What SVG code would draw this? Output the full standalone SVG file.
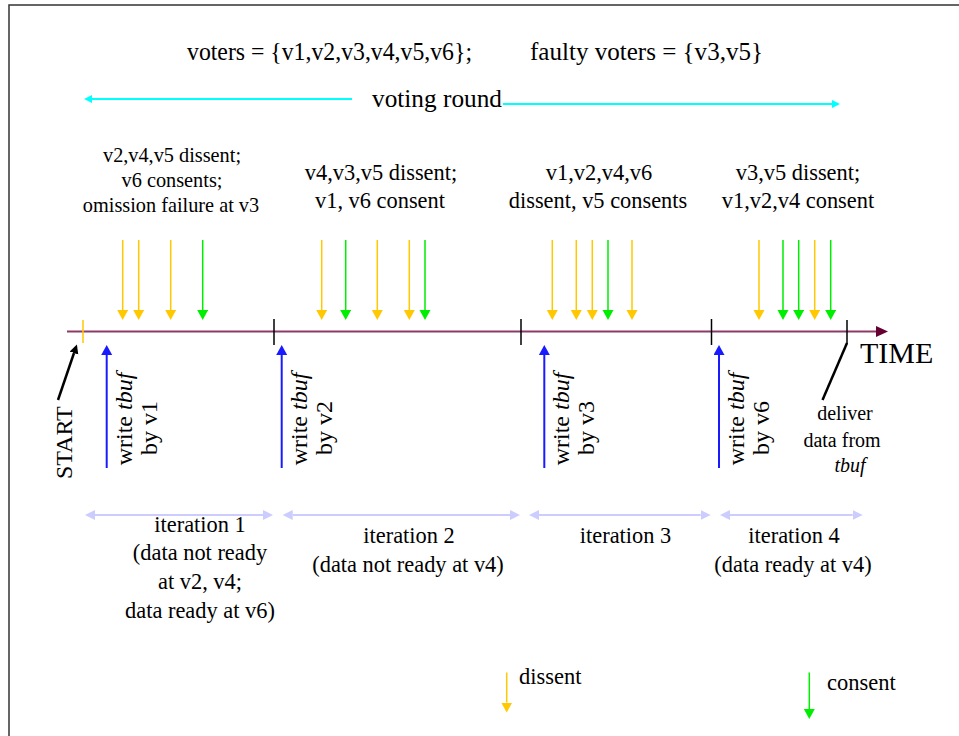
<svg xmlns="http://www.w3.org/2000/svg" width="959" height="736" viewBox="0 0 959 736" font-family="'Liberation Serif', 'Times New Roman', serif">
<defs>
<style>
text{font-family:'Liberation Serif','Times New Roman',serif;fill:#000}
.t20{font-size:20.3px;text-anchor:middle}
.t22{font-size:22.4px;text-anchor:middle}
.d20{font-size:20px;text-anchor:middle}
.t24{font-size:24px;text-anchor:middle}
.it{font-style:italic}
.dis{stroke:#ffc800;stroke-width:1.5;fill:none}
.con{stroke:#00ee00;stroke-width:1.5;fill:none}
.blue{stroke:#1a1aff;stroke-width:2;fill:none}
.tick{stroke:#000;stroke-width:1.5}
.iter{stroke:#ccccff;stroke-width:2;fill:none}
.cyan{stroke:#00ffff;stroke-width:2;fill:none}
</style>
<marker id="hd" markerUnits="userSpaceOnUse" markerWidth="12" markerHeight="12" refX="0" refY="5.5" orient="auto"><path d="M0,0 L10,5.5 L0,11 z" fill="#ffc800"/></marker>
<marker id="hc" markerUnits="userSpaceOnUse" markerWidth="12" markerHeight="12" refX="0" refY="5.5" orient="auto"><path d="M0,0 L10,5.5 L0,11 z" fill="#00ee00"/></marker>
<marker id="hb" markerUnits="userSpaceOnUse" markerWidth="12" markerHeight="12" refX="0" refY="5.5" orient="auto"><path d="M0,0 L10,5.5 L0,11 z" fill="#1a1aff"/></marker>
<marker id="hi" markerUnits="userSpaceOnUse" markerWidth="12" markerHeight="12" refX="0" refY="5" orient="auto-start-reverse"><path d="M0,0 L10,5 L0,10 z" fill="#ccccff"/></marker>
<marker id="hy" markerUnits="userSpaceOnUse" markerWidth="12" markerHeight="12" refX="0" refY="4" orient="auto"><path d="M0,0 L8,4 L0,8 z" fill="#00ffff"/></marker>
<marker id="ht" markerUnits="userSpaceOnUse" markerWidth="14" markerHeight="14" refX="0" refY="5.5" orient="auto"><path d="M0,0 L12,5.5 L0,11 z" fill="#660033"/></marker>
<marker id="hk" markerUnits="userSpaceOnUse" markerWidth="12" markerHeight="12" refX="0" refY="4.5" orient="auto"><path d="M0,0 L9,4.5 L0,9 z" fill="#000"/></marker>
</defs>
<rect width="959" height="736" fill="#fff"/>
<path d="M9,736 V5 H959" fill="none" stroke="#333" stroke-width="1.5"/>

<g id="title">
<text x="187" y="60" font-size="26" textLength="285" lengthAdjust="spacingAndGlyphs">voters = {v1,v2,v3,v4,v5,v6};</text>
<text x="530" y="60" font-size="26" textLength="233" lengthAdjust="spacingAndGlyphs">faulty voters = {v3,v5}</text>
</g>

<g id="voting-round">
<line class="cyan" x1="352" y1="99" x2="92" y2="99" marker-end="url(#hy)"/>
<text x="372" y="107" font-size="26" textLength="130" lengthAdjust="spacingAndGlyphs">voting round</text>
<line class="cyan" x1="503" y1="104" x2="832" y2="104" marker-end="url(#hy)"/>
</g>

<g id="timeline">
<line x1="67" y1="331.5" x2="876" y2="331.5" stroke="#8e3a66" stroke-width="2" marker-end="url(#ht)"/>
<line x1="83" y1="320" x2="83" y2="343" stroke="#ffc800" stroke-width="1.5"/>
<line class="tick" x1="274" y1="319" x2="274" y2="345"/>
<line class="tick" x1="521" y1="319" x2="521" y2="345"/>
<line class="tick" x1="711.5" y1="319" x2="711.5" y2="345"/>
<line class="tick" x1="847" y1="320" x2="847" y2="344"/>
<text x="860" y="363" font-size="30">TIME</text>
</g>

<g id="interval1-label">
<text class="t20" x="172" y="161.5">v2,v4,v5 dissent;</text>
<text class="t20" x="172" y="186.5">v6 consents;</text>
<text class="t20" x="171" y="211.5">omission failure at v3</text>
</g>
<g id="interval2-label">
<text class="t22" x="381" y="180">v4,v3,v5 dissent;</text>
<text class="t22" x="380" y="208">v1, v6 consent</text>
</g>
<g id="interval3-label">
<text class="t22" x="599" y="180">v1,v2,v4,v6</text>
<text class="t22" x="598" y="208">dissent, v5 consents</text>
</g>
<g id="interval4-label">
<text class="t22" x="798" y="180">v3,v5 dissent;</text>
<text class="t22" x="798" y="208">v1,v2,v4 consent</text>
</g>

<g id="votes">
<line class="dis" x1="122.7" y1="240" x2="122.7" y2="310" marker-end="url(#hd)"/>
<line class="dis" x1="138.7" y1="240" x2="138.7" y2="310" marker-end="url(#hd)"/>
<line class="dis" x1="170.7" y1="240" x2="170.7" y2="310" marker-end="url(#hd)"/>
<line class="con" x1="202.7" y1="240" x2="202.7" y2="310" marker-end="url(#hc)"/>
<line class="dis" x1="321.7" y1="240" x2="321.7" y2="310" marker-end="url(#hd)"/>
<line class="con" x1="345.7" y1="240" x2="345.7" y2="310" marker-end="url(#hc)"/>
<line class="dis" x1="377.3" y1="240" x2="377.3" y2="310" marker-end="url(#hd)"/>
<line class="dis" x1="409.3" y1="240" x2="409.3" y2="310" marker-end="url(#hd)"/>
<line class="con" x1="425" y1="240" x2="425" y2="310" marker-end="url(#hc)"/>
<line class="dis" x1="552.3" y1="240" x2="552.3" y2="310" marker-end="url(#hd)"/>
<line class="dis" x1="576.3" y1="240" x2="576.3" y2="310" marker-end="url(#hd)"/>
<line class="dis" x1="592.3" y1="240" x2="592.3" y2="310" marker-end="url(#hd)"/>
<line class="con" x1="608" y1="240" x2="608" y2="310" marker-end="url(#hc)"/>
<line class="dis" x1="632" y1="240" x2="632" y2="310" marker-end="url(#hd)"/>
<line class="dis" x1="759" y1="240" x2="759" y2="310" marker-end="url(#hd)"/>
<line class="con" x1="783" y1="240" x2="783" y2="310" marker-end="url(#hc)"/>
<line class="con" x1="798.7" y1="240" x2="798.7" y2="310" marker-end="url(#hc)"/>
<line class="dis" x1="814.7" y1="240" x2="814.7" y2="310" marker-end="url(#hd)"/>
<line class="con" x1="830.7" y1="240" x2="830.7" y2="310" marker-end="url(#hc)"/>
</g>

<g id="start">
<line x1="58" y1="400" x2="74" y2="353" stroke="#000" stroke-width="2.5" marker-end="url(#hk)"/>
<text x="72" y="479" font-size="24" transform="rotate(-90 72 479)">START</text>
</g>

<g id="write-v1">
<line class="blue" x1="106.7" y1="468" x2="106.7" y2="355" marker-end="url(#hb)"/>
<text class="t24" transform="translate(131.5 419) rotate(-90)">write <tspan class="it">tbuf</tspan></text>
<text class="t24" transform="translate(156.5 428) rotate(-90)">by  v1</text>
</g>
<g id="write-v2">
<line class="blue" x1="281.7" y1="468" x2="281.7" y2="355" marker-end="url(#hb)"/>
<text class="t24" transform="translate(306.5 419) rotate(-90)">write <tspan class="it">tbuf</tspan></text>
<text class="t24" transform="translate(331.5 428) rotate(-90)">by  v2</text>
</g>
<g id="write-v3">
<line class="blue" x1="544.3" y1="468" x2="544.3" y2="355" marker-end="url(#hb)"/>
<text class="t24" transform="translate(569 419) rotate(-90)">write <tspan class="it">tbuf</tspan></text>
<text class="t24" transform="translate(594 428) rotate(-90)">by  v3</text>
</g>
<g id="write-v6">
<line class="blue" x1="719" y1="468" x2="719" y2="355" marker-end="url(#hb)"/>
<text class="t24" transform="translate(744 419) rotate(-90)">write <tspan class="it">tbuf</tspan></text>
<text class="t24" transform="translate(769 428) rotate(-90)">by  v6</text>
</g>

<g id="deliver">
<line x1="847" y1="343" x2="822.5" y2="400" stroke="#000" stroke-width="2.5"/>
<text class="d20" x="845" y="420">deliver</text>
<text class="d20" x="842" y="446.5">data from</text>
<text class="d20 it" x="850" y="471.5">tbuf</text>
</g>

<g id="iterations">
<line class="iter" x1="95" y1="515" x2="263" y2="515" marker-start="url(#hi)" marker-end="url(#hi)"/>
<line class="iter" x1="292.7" y1="515" x2="510" y2="515" marker-start="url(#hi)" marker-end="url(#hi)"/>
<line class="iter" x1="539" y1="515" x2="700.7" y2="515" marker-start="url(#hi)" marker-end="url(#hi)"/>
<line class="iter" x1="730" y1="515" x2="852.7" y2="515" marker-start="url(#hi)" marker-end="url(#hi)"/>
</g>

<g id="iteration1">
<text class="t22" x="200" y="531.5">iteration 1</text>
<text class="t22" x="200" y="560">(data not ready</text>
<text class="t22" x="200" y="589">at v2, v4;</text>
<text class="t22" x="200" y="618">data ready at v6)</text>
</g>
<g id="iteration2">
<text class="t22" x="409" y="543">iteration 2</text>
<text class="t22" x="408" y="572">(data not ready at v4)</text>
</g>
<g id="iteration3">
<text class="t22" x="625.5" y="543">iteration 3</text>
</g>
<g id="iteration4">
<text class="t22" x="794" y="543">iteration 4</text>
<text class="t22" x="793" y="572">(data ready at v4)</text>
</g>

<g id="legend-dissent">
<line class="dis" x1="506.7" y1="672.5" x2="506.7" y2="702.5" marker-end="url(#hd)"/>
<text x="519" y="684" font-size="22.5">dissent</text>
</g>
<g id="legend-consent">
<line class="con" x1="809.3" y1="672.5" x2="809.3" y2="709" marker-end="url(#hc)"/>
<text x="827" y="690" font-size="22.5">consent</text>
</g>
</svg>
